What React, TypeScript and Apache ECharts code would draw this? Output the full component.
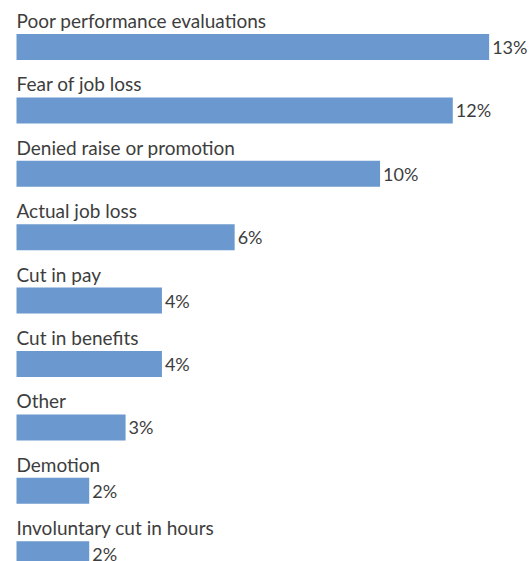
import React, { useEffect, useRef } from "react";
import * as echarts from "echarts";

const categories = [
  "Poor performance evaluations",
  "Fear of job loss",
  "Denied raise or promotion",
  "Actual job loss",
  "Cut in pay",
  "Cut in benefits",
  "Other",
  "Demotion",
  "Involuntary cut in hours",
];
const values = [13, 12, 10, 6, 4, 4, 3, 2, 2];

const BAR_COLOR = "#6a98cf";
const TEXT_COLOR = "#3d3d3d";
const FONT = "Lato, 'Open Sans', sans-serif";

export default function App() {
  const ref = useRef<HTMLDivElement>(null);
  useEffect(() => {
    if (!ref.current) return;
    const chart = echarts.init(ref.current, undefined, { renderer: "svg" });
    chart.setOption({
      animation: false,
      grid: { left: 16.5, top: 15.3, width: 509, height: 570.6 },
      xAxis: { type: "value", min: 0, max: 14, show: false },
      yAxis: {
        type: "category",
        data: categories,
        inverse: true,
        show: false,
      },
      series: [
        {
          type: "bar",
          data: values,
          barWidth: 26,
          itemStyle: { color: BAR_COLOR },
          label: {
            show: true,
            position: "right",
            distance: 3,
            formatter: "{c}%",
            color: TEXT_COLOR,
            fontFamily: FONT,
            fontSize: 18,
          },
          silent: true,
        },
        {
          type: "bar",
          data: values,
          barWidth: 26,
          barGap: "-100%",
          itemStyle: { color: "rgba(0,0,0,0)" },
          label: {
            show: true,
            position: [0, -4],
            verticalAlign: "bottom",
            align: "left",
            formatter: "{b}",
            color: TEXT_COLOR,
            fontFamily: FONT,
            fontSize: 19,
          },
          silent: true,
        },
      ],
    });
    return () => chart.dispose();
  }, []);
  return (
    <div
      style={{
        position: "absolute",
        left: 0,
        top: 0,
        width: 532,
        height: 561,
        overflow: "hidden",
      }}
    >
      <div ref={ref} style={{ width: 532, height: 600 }} />
    </div>
  );
}
